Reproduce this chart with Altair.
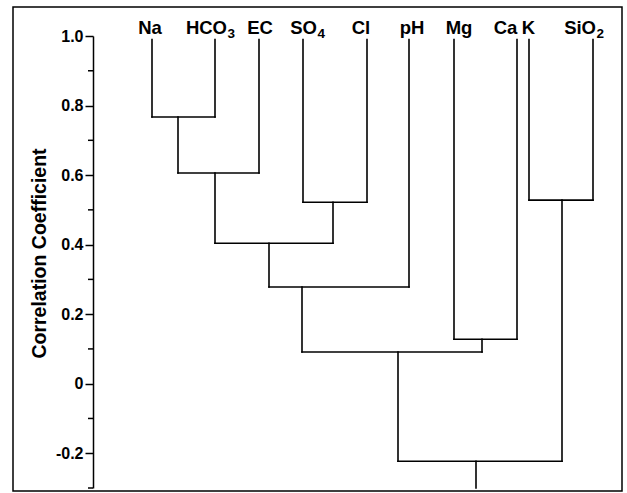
import altair as alt
import pandas as pd

# ---- data ----
leaf_base = ["Na", "HCO", "EC", "SO", "Cl", "pH", "Mg", "Ca", "K", "SiO"]
leaf_sub = ["", "3", "", "4", "", "", "", "", "", "2"]
leaf_pos = [59, 122, 166, 210, 274, 316, 361, 424, 436, 500]   # horizontal leaf order positions
leaf_top = 0.99

# merges: children indices (leaves 0-9, merges 10..), height (correlation), node position
merge_a = [0, 10, 3, 11, 13, 6, 14, 8, 16]
merge_b = [1, 2, 4, 12, 5, 7, 15, 9, 17]
merge_height = [0.767, 0.606, 0.522, 0.404, 0.278, 0.128, 0.091, 0.528, -0.223]
merge_pos = [85, 122, 240, 176, 209, 389, 305, 469, 383]

y_min, y_max = -0.3, 1.0
major_ticks = [-0.2, 0, 0.2, 0.4, 0.6, 0.8, 1.0]
minor_ticks = [-0.3, -0.1, 0.1, 0.3, 0.5, 0.7, 0.9]

# label nudges (style only): centre for plain labels, base/subscript joint for others
label_nudge = [-2, 12, 1, 14, -6, 3, 5, -11.5, -0.5, 3]

# ---- build tree segments ----
node_x = list(leaf_pos) + list(merge_pos)
node_y = [leaf_top] * len(leaf_pos) + list(merge_height)
segs = []
for a, b, h, p in zip(merge_a, merge_b, merge_height, merge_pos):
    segs.append(dict(x=node_x[a], x2=node_x[a], y=node_y[a], y2=h))
    segs.append(dict(x=node_x[b], x2=node_x[b], y=node_y[b], y2=h))
    segs.append(dict(x=node_x[a], x2=node_x[b], y=h, y2=h))
root = len(node_x) - 1
segs.append(dict(x=node_x[root], x2=node_x[root], y=node_y[root], y2=y_min))
seg_df = pd.DataFrame(segs)

labels_df = pd.DataFrame({
    "base": leaf_base,
    "sub": leaf_sub,
    "lx": [p + n for p, n in zip(leaf_pos, label_nudge)],
    "has_sub": [s != "" for s in leaf_sub],
})
minor_df = pd.DataFrame({"v": minor_ticks})

xscale = alt.Scale(domain=[0, 529], nice=False, zero=False)
yscale = alt.Scale(domain=[y_min, y_max], nice=False, zero=False)

tree = alt.Chart(seg_df).mark_rule(color="black", strokeWidth=1.6, strokeCap="square").encode(
    x=alt.X("x:Q", scale=xscale, axis=None),
    x2="x2:Q",
    y=alt.Y(
        "y:Q",
        scale=yscale,
        axis=alt.Axis(
            title="Correlation Coefficient",
            values=major_ticks,
            labelExpr="datum.value == 0 ? '0' : replace(format(datum.value, '.1f'), '\u2212', '-')",
            tickSize=8,
            tickWidth=1.5,
            domainWidth=1.5,
            domainColor="black",
            tickColor="black",
            labelColor="black",
            labelFont="Liberation Sans",
            labelFontWeight="bold",
            labelFontSize=16,
            labelPadding=2,
            titleFont="Liberation Sans",
            titleFontWeight="bold",
            titleFontSize=19.5,
            titleColor="black",
            titleX=-44,
            titleY=217,
            grid=False,
        ),
    ),
    y2="y2:Q",
)

minor = alt.Chart(minor_df).mark_rule(color="black", strokeWidth=1.5).encode(
    y=alt.Y("v:Q", scale=yscale),
    x=alt.value(-5),
    x2=alt.value(0),
)

text_style = dict(font="Liberation Sans", fontWeight="bold", color="black", baseline="alphabetic")

plain_labels = alt.Chart(labels_df).transform_filter("!datum.has_sub").mark_text(
    fontSize=18.5, align="center", **text_style
).encode(x=alt.X("lx:Q", scale=xscale), y=alt.value(-2.5), text="base:N")

sub_base = alt.Chart(labels_df).transform_filter("datum.has_sub").mark_text(
    fontSize=18.5, align="right", **text_style
).encode(x=alt.X("lx:Q", scale=xscale), y=alt.value(-2.5), text="base:N")

sub_digits = alt.Chart(labels_df).transform_filter("datum.has_sub").mark_text(
    fontSize=13.5, align="left", dx=0.5, **text_style
).encode(x=alt.X("lx:Q", scale=xscale), y=alt.value(1.5), text="sub:N")

frame = alt.Chart(pd.DataFrame({"d": [0]})).mark_rect(
    filled=False, stroke="black", strokeWidth=1.5
).encode(
    x=alt.value(-80), x2=alt.value(529), y=alt.value(-29), y2=alt.value(455)
)

chart = alt.layer(frame, tree, minor, plain_labels, sub_base, sub_digits).properties(
    width=529,
    height=452,
    autosize=alt.AutoSizeParams(type="none"),
    padding={"left": 93, "top": 36, "right": 5, "bottom": 5},
    background="white",
).configure_view(stroke=None)

chart.save("out.html", embed_options={"renderer": "svg", "actions": False})
